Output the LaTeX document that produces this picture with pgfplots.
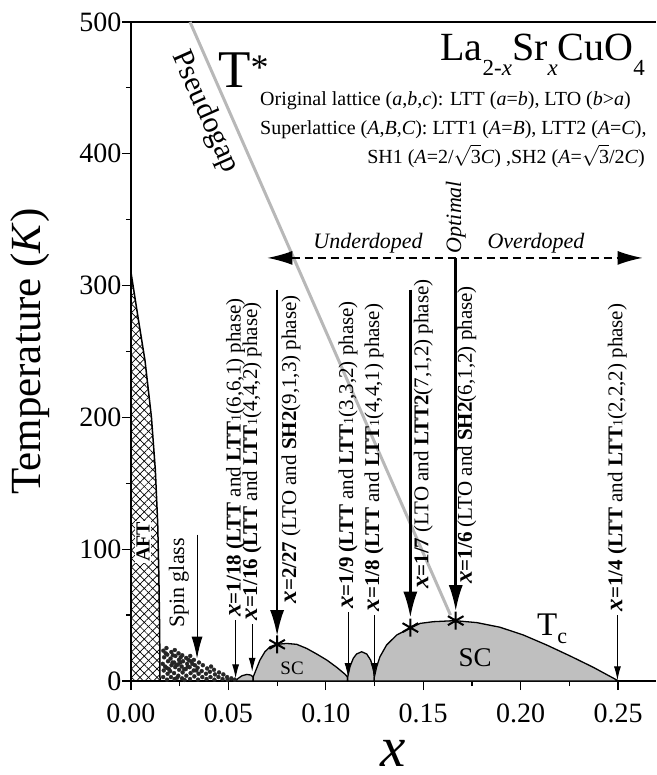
\documentclass[border=0pt]{standalone}
\usepackage{fontspec}
\setmainfont{Liberation Serif}
\usepackage{pgfplots}
\pgfplotsset{compat=1.18}
\usetikzlibrary{arrows.meta,patterns.meta}
\newcommand{\fs}[1]{\fontsize{#1}{#1}\selectfont}
\tikzset{
 thinarr/.style={line width=1pt, -{Latex[length=14pt,width=7pt]}},
 thickarr/.style={line width=2.5pt, -{Latex[length=26pt,width=14pt]}},
}
\begin{document}
\begin{tikzpicture}
\begin{axis}[
 name=ax,
 scale only axis, width=525pt, height=659pt,
 xmin=0, xmax=0.2695, ymin=0, ymax=500,
 axis x line=box, axis y line*=left,
 clip=false,
 xtick={0,0.05,0.10,0.15,0.20,0.25},
 ytick={0,100,200,300,400,500},
 minor xtick={0.025,0.075,0.125,0.175,0.225},
 minor ytick={50,150,250,350,450},
 xtick pos=left,
 tick align=outside, major tick length=9pt, minor tick length=5pt,
 every tick/.style={black, line width=1.2pt},
 axis line style={line width=1.5pt},
 /pgf/number format/assume math mode=true,
 tick label style={font=\fs{28}},
 yticklabel style={xshift=3pt},
 xticklabel style={yshift=-10pt, /pgf/number format/.cd, fixed, fixed zerofill, precision=2},
 xlabel={\textit{x}},
 xlabel style={font=\fs{57}, inner sep=0pt, at={(axis description cs:0.5,-0.1100)}, anchor=center},
 ylabel={Temperature (\textit{K})},
 ylabel style={font=\fs{43}, at={(axis description cs:-0.1924,0.5)}, anchor=center},
]
% Spin glass dots
\addplot[only marks, mark=*, mark size=2pt, color=black!85, mark options={draw=black!85, fill=black!85, solid, line width=0.3pt}] coordinates {
(0.0165,3)(0.0168,8)(0.0163,13)(0.0170,18)(0.0166,23)(0.0185,1)(0.0188,5.5)(0.0183,10)(0.0190,15)(0.0186,20)(0.0182,25)
(0.0205,3)(0.0201,7.5)(0.0208,12)(0.0203,17)(0.0207,22)(0.0224,1.5)(0.0221,6)(0.0227,10.5)(0.0222,14)(0.0228,19)(0.0225,23.5)
(0.0243,4)(0.0247,8.5)(0.0241,12.5)(0.0246,16)(0.0244,21)(0.0262,2)(0.0265,6.5)(0.0260,11)(0.0267,15)(0.0263,19.5)
(0.0284,4)(0.0281,9)(0.0288,13)(0.0283,17.5)(0.0303,1.5)(0.0306,6)(0.0301,10.5)(0.0308,15)(0.0304,19)
(0.0325,3.5)(0.0322,8)(0.0328,12)(0.0323,16)(0.0344,1)(0.0347,5.5)(0.0342,10)(0.0349,14)
(0.0366,3)(0.0363,7.5)(0.0369,12)(0.0388,1.5)(0.0385,5.5)(0.0391,9.5)(0.0408,3)(0.0405,7)(0.0411,11)
(0.0428,1)(0.0431,5)(0.0426,8.5)(0.0449,3)(0.0452,6.5)(0.0470,1.5)(0.0474,5)(0.0493,3)(0.0496,0.8)(0.0515,2)(0.0532,1)
(0.0175,11)(0.0195,9)(0.0213,14)(0.0233,12)(0.0253,14)(0.0273,9)(0.0292,11)(0.0315,13)(0.0335,8)(0.0178,21)(0.0215,19.5)(0.0255,18)(0.0295,16)(0.0237,2.5)(0.0275,0.8)};
% SC domes
\addplot[fill=black!25, draw=black, line width=1.3pt] coordinates {(0.0534,0)(0.0550,2)(0.0570,4)(0.0595,5)(0.0615,4.5)(0.0627,3)} \closedcycle;
\addplot[fill=black!25, draw=black, line width=1.3pt] coordinates {(0.0628,3.3)(0.0645,9.6)(0.0662,15.9)(0.0688,22.3)(0.0714,26.0)(0.0748,27.8)(0.0799,28.5)(0.0851,27.8)(0.0902,24.7)(0.0953,20.5)(0.1005,15.9)(0.1056,10.4)(0.1099,5.1)(0.1112,2.8)} \closedcycle;
\addplot[fill=black!25, draw=black, line width=1.3pt] coordinates {(0.1112,2.8)(0.1124,10.9)(0.1141,17.2)(0.1158,20.5)(0.1184,22.2)(0.1210,20.5)(0.1230,15.9)(0.1244,9.6)(0.1249,2.8)} \closedcycle;
\addplot[fill=black!25, draw=black, line width=1.3pt] coordinates {(0.1249,2.8)(0.1261,10.8)(0.1278,18.4)(0.1312,27.3)(0.1364,34.9)(0.1432,40.0)(0.1484,43.7)(0.1552,45)(0.1663,45.8)(0.1775,44.3)(0.1894,40.8)(0.2014,34.9)(0.2134,27.3)(0.2254,19.0)(0.2373,10.4)(0.2493,0.8)(0.2503,0)} \closedcycle;
% stars
\addplot[only marks, mark=asterisk, mark size=9pt, line width=2pt] coordinates {(0.075,27.8)(0.1434,40.5)(0.1667,45.8)};
% AFT hatched region
\addplot[draw=none, pattern={Lines[angle=45,distance=6pt,line width=0.7pt]}] coordinates {(0,310)(0.0036,276)(0.0072,243)(0.0105,200)(0.0125,160)(0.0137,120)(0.0143,80)(0.0147,40)(0.0149,0)} \closedcycle;
\addplot[draw=none, pattern={Lines[angle=-45,distance=6pt,line width=0.7pt]}] coordinates {(0,310)(0.0036,276)(0.0072,243)(0.0105,200)(0.0125,160)(0.0137,120)(0.0143,80)(0.0147,40)(0.0149,0)} \closedcycle;
\addplot[line width=1.5pt] coordinates {(0,310)(0.0036,276)(0.0072,243)(0.0105,200)(0.0125,160)(0.0137,120)(0.0143,80)(0.0147,40)(0.0149,0)};
% Pseudogap line
\addplot[black!28, line width=3pt] coordinates {(0.0303,500)(0.164,50)};
% dashed arrow
\addplot[line width=1.5pt, dash pattern=on 8pt off 5pt, {Latex[length=25pt,width=14pt]}-{Latex[length=25pt,width=14pt]}] coordinates {(0.070,321)(0.2626,321)};
% thick arrows
\addplot[thickarr] coordinates {(0.075,297)(0.075,34)};
\addplot[thickarr] coordinates {(0.1434,297)(0.1434,48)};
\addplot[thickarr] coordinates {(0.1667,321)(0.1667,53)};
% thin arrows
\addplot[thinarr] coordinates {(0.0537,46)(0.0537,2)};
\addplot[thinarr] coordinates {(0.0622,43)(0.0622,7)};
\addplot[thinarr] coordinates {(0.1114,52)(0.1114,3)};
\addplot[thinarr] coordinates {(0.1248,50)(0.1248,3)};
\addplot[thinarr] coordinates {(0.2497,50)(0.2497,0.5)};
\addplot[line width=1pt, -{Latex[length=22pt,width=11pt]}] coordinates {(0.0339,111)(0.0339,17)};
% labels
\node[rotate=90, anchor=west, inner sep=1pt, font=\fs{21}] at (axis cs:0.0537,48) {{\fs{25}\bfseries\itshape x}\textbf{=1/18 (LTT} and \textbf{LTT}{\fs{14}1}(6,6,1) phase)};
\node[rotate=90, anchor=west, inner sep=1pt, font=\fs{21}] at (axis cs:0.0622,45) {{\fs{25}\bfseries\itshape x}\textbf{=1/16 (LTT} and \textbf{LTT}{\fs{14}1}(4,4,2) phase)};
\node[rotate=90, anchor=west, inner sep=1pt, font=\fs{21}] at (axis cs:0.1114,54) {{\fs{25}\bfseries\itshape x}\textbf{=1/9 (LTT} and \textbf{LTT}{\fs{14}1}(3,3,2) phase)};
\node[rotate=90, anchor=west, inner sep=1pt, font=\fs{21}] at (axis cs:0.1248,52) {{\fs{25}\bfseries\itshape x}\textbf{=1/8 (LTT} and \textbf{LTT}{\fs{14}1}(4,4,1) phase)};
\node[rotate=90, anchor=west, inner sep=1pt, font=\fs{21}] at (axis cs:0.2497,52) {{\fs{25}\bfseries\itshape x}\textbf{=1/4 (LTT} and \textbf{LTT}{\fs{14}1}(2,2,2) phase)};
\node[rotate=90, anchor=west, inner sep=1pt, font=\fs{21}] at (axis cs:0.0822,58) {{\fs{25}\bfseries\itshape x}\textbf{=2/27} (LTO and \textbf{SH2}(9,1,3) phase)};
\node[rotate=90, anchor=west, inner sep=1pt, font=\fs{21}] at (axis cs:0.1501,69) {{\fs{25}\bfseries\itshape x}\textbf{=1/7} (LTO and \textbf{LTT2}(7,1,2) phase)};
\node[rotate=90, anchor=west, inner sep=1pt, font=\fs{21}] at (axis cs:0.1724,73) {{\fs{25}\bfseries\itshape x}\textbf{=1/6} (LTO and \textbf{SH2}(6,1,2) phase)};
\node[rotate=90, font=\fs{22}] at (axis cs:0.0246,74.4) {Spin glass};
\node[rotate=90, font=\fs{20}\bfseries, fill=white, inner sep=1pt] at (axis cs:0.0062,105.5) {AFT};
\node[font=\fs{19}] at (axis cs:0.0827,9.9) {SC};
\node[font=\fs{27}] at (axis cs:0.1766,17.5) {SC};
\node[anchor=base west, font=\fs{33}, inner sep=0pt] at (axis cs:0.2084,34.9) {T\raisebox{-8pt}{\fs{22}c}};
\node[rotate=-66, font=\fs{30}] at (axis cs:0.038,431.7) {Pseudogap};
\node[anchor=base, font=\fs{22}\itshape] at (axis cs:0.1217,328.5) {Underdoped};
\node[anchor=base, font=\fs{22}\itshape] at (axis cs:0.2079,328.5) {Overdoped};
\node[rotate=90, font=\fs{22}\itshape, fill=white, inner sep=1pt] at (axis cs:0.1668,352) {Optimal};
\node[anchor=base west, font=\fs{53}, inner sep=0pt] at (axis cs:0.0447,450) {T\raisebox{8pt}{\fs{36}*}};
\node[anchor=base east, font=\fs{40}, inner sep=0pt] at (axis cs:0.2639,471) {La\raisebox{-15pt}{\fs{23}2-\textit{x}}Sr\raisebox{-15pt}{\fs{23}\textit{x}}CuO\raisebox{-15pt}{\fs{23}4}};
\node[anchor=base west, font=\fs{20}, inner sep=0pt] at (axis cs:0.0662,436.3) {Original lattice (\textit{a},\textit{b},\textit{c}): LTT (\textit{a}=\textit{b}), LTO (\textit{b}>\textit{a})};
\node[anchor=base west, font=\fs{20}, inner sep=0pt] at (axis cs:0.0662,414.3) {Superlattice (\textit{A},\textit{B},\textit{C}): LTT1 (\textit{A}=\textit{B}), LTT2 (\textit{A}=\textit{C}),};
\node[anchor=base east, font=\fs{20}, inner sep=0pt] at (axis cs:0.2639,393) {SH1 (\textit{A}=2/$\sqrt{\mbox{3}}$\textit{C}) ,SH2 (\textit{A}=$\sqrt{\mbox{3}}$/2\textit{C})};
\end{axis}
\pgfresetboundingbox
\path[use as bounding box] ([xshift=-131pt,yshift=-94pt]ax.south west) rectangle ([yshift=22pt]ax.north east);
\end{tikzpicture}
\end{document}
